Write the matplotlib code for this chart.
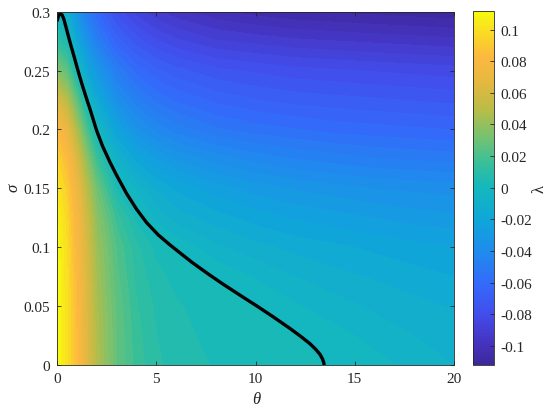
"""
Lyapunov exponent map lambda(theta, sigma) with the zero contour line.
"""
import numpy as np
import matplotlib
matplotlib.use("Agg")
import matplotlib.pyplot as plt
from matplotlib.colors import LinearSegmentedColormap, Normalize
from matplotlib.ticker import FuncFormatter
import matplotlib.cm as cm

plt.rcParams['font.family'] = ['Liberation Serif', 'DejaVu Serif']
plt.rcParams['axes.unicode_minus'] = False

# --- data ---
theta = [0, 0.5, 1, 1.5, 2, 3, 4, 5, 6, 8, 10, 12, 14, 16, 18, 20]
sigma = [0, 0.025, 0.05, 0.075, 0.1, 0.125, 0.15, 0.175, 0.2, 0.225,
         0.25, 0.275, 0.3]

lam_s000 = [0.112, 0.100, 0.085, 0.065, 0.048, 0.027, 0.016, 0.010, 0.007,
            0.004, 0.002, 0.0012, -0.0005, -0.003, -0.006, -0.009]
lam_s025 = [0.112, 0.100, 0.084, 0.064, 0.047, 0.027, 0.015, 0.009, 0.006,
            0.003, 0.0012, 0.0001, -0.003, -0.006, -0.009, -0.011]
lam_s050 = [0.112, 0.100, 0.083, 0.063, 0.046, 0.026, 0.014, 0.008, 0.005,
            0.002, 0.000, -0.004, -0.007, -0.010, -0.012, -0.014]
lam_s075 = [0.112, 0.099, 0.082, 0.062, 0.044, 0.024, 0.012, 0.006, 0.003,
            -0.0005, -0.005, -0.009, -0.012, -0.014, -0.016, -0.018]
lam_s100 = [0.111, 0.098, 0.080, 0.060, 0.042, 0.022, 0.010, 0.003, -0.001,
            -0.008, -0.012, -0.015, -0.017, -0.019, -0.021, -0.022]
lam_s125 = [0.108, 0.096, 0.077, 0.057, 0.038, 0.016, 0.003, -0.006, -0.011,
            -0.016, -0.020, -0.023, -0.025, -0.027, -0.029, -0.030]
lam_s150 = [0.102, 0.092, 0.072, 0.050, 0.030, 0.004, -0.006, -0.014, -0.019,
            -0.025, -0.029, -0.032, -0.034, -0.036, -0.037, -0.038]
lam_s175 = [0.095, 0.083, 0.062, 0.038, 0.016, -0.008, -0.020, -0.027, -0.032,
            -0.038, -0.042, -0.045, -0.047, -0.049, -0.050, -0.051]
lam_s200 = [0.082, 0.070, 0.046, 0.020, -0.001, -0.022, -0.035, -0.042, -0.047,
            -0.053, -0.056, -0.058, -0.060, -0.061, -0.062, -0.063]
lam_s225 = [0.062, 0.050, 0.025, 0.001, -0.016, -0.037, -0.048, -0.055, -0.059,
            -0.064, -0.067, -0.069, -0.070, -0.071, -0.072, -0.073]
lam_s250 = [0.035, 0.025, 0.002, -0.018, -0.031, -0.050, -0.060, -0.066, -0.070,
            -0.075, -0.077, -0.079, -0.080, -0.081, -0.082, -0.083]
lam_s275 = [0.012, 0.004, -0.018, -0.035, -0.048, -0.065, -0.074, -0.080, -0.084,
            -0.089, -0.091, -0.093, -0.094, -0.095, -0.096, -0.097]
lam_s300 = [-0.004, -0.012, -0.034, -0.050, -0.062, -0.078, -0.087, -0.093,
            -0.097, -0.102, -0.105, -0.107, -0.108, -0.109, -0.110, -0.111]

# lambda = 0 curve
zero_theta = [0.0, 0.05, 0.10, 0.18, 0.26, 0.35, 0.49, 0.65, 0.86, 1.05, 1.24,
              1.45, 1.66, 2.0, 2.3, 2.67, 3.0, 3.51, 4.0, 4.52, 5.1, 5.69,
              6.25, 6.8, 7.6, 8.38, 9.2, 10.06, 10.9, 11.74, 12.3, 12.75,
              13.05, 13.25, 13.38, 13.44, 13.46]
zero_sigma = [0.2918, 0.2950, 0.2972, 0.2982, 0.2972, 0.2935, 0.2847, 0.2745,
              0.2620, 0.2505, 0.2395, 0.2283, 0.2175, 0.1990, 0.1857, 0.1722,
              0.1612, 0.1455, 0.1325, 0.1208, 0.1105, 0.1020, 0.0945, 0.0872,
              0.0775, 0.0685, 0.0595, 0.0502, 0.0408, 0.0310, 0.0240, 0.0180,
              0.0130, 0.0090, 0.0050, 0.0020, 0.0]

LAM = np.array([lam_s000, lam_s025, lam_s050, lam_s075, lam_s100, lam_s125,
                lam_s150, lam_s175, lam_s200, lam_s225, lam_s250, lam_s275,
                lam_s300])

# parula-like map, tuned to the colours of the reference colorbar
cmap = LinearSegmentedColormap.from_list('parula_like', [
    (0.00, (0.24, 0.16, 0.60)),
    (0.06, (0.27, 0.20, 0.75)),
    (0.14, (0.26, 0.30, 0.92)),
    (0.23, (0.20, 0.42, 0.98)),
    (0.32, (0.12, 0.55, 0.93)),
    (0.41, (0.06, 0.65, 0.85)),
    (0.50, (0.08, 0.72, 0.74)),
    (0.57, (0.22, 0.75, 0.60)),
    (0.64, (0.45, 0.76, 0.45)),
    (0.72, (0.72, 0.74, 0.28)),
    (0.80, (0.90, 0.72, 0.25)),
    (0.87, (0.99, 0.72, 0.25)),
    (0.93, (0.98, 0.84, 0.15)),
    (1.00, (0.97, 0.98, 0.06))], N=256)

VMIN, VMAX = -0.112, 0.112
EDGE = '#262626'

fig = plt.figure(figsize=(5.5, 4.1), dpi=100)
ax = fig.add_axes([0.1036, 0.1073, 0.7219, 0.8617])

levels = np.linspace(VMIN, VMAX, 51)
ax.contourf(theta, sigma, LAM, levels=levels, cmap=cmap,
            vmin=VMIN, vmax=VMAX, extend='both')
ax.plot(zero_theta, zero_sigma, color='black', linewidth=2.4,
        solid_capstyle='butt')

ax.set_xlim(0, 20)
ax.set_ylim(0, 0.3)
ax.set_xticks([0, 5, 10, 15, 20])
ax.set_yticks([0, 0.05, 0.1, 0.15, 0.2, 0.25, 0.3])
fmt = FuncFormatter(lambda v, p: '%g' % round(v, 4))
ax.yaxis.set_major_formatter(fmt)
ax.tick_params(direction='in', top=True, right=True, length=3, width=0.6,
               labelsize=11, colors=EDGE, pad=5)
for sp in ax.spines.values():
    sp.set_color(EDGE)
    sp.set_linewidth(0.6)

# axis labels placed like in the reference
fig.text(256 / 550, 1 - 400 / 410, 'θ', fontsize=12, fontstyle='italic',
         color=EDGE, ha='center', va='center')
fig.text(13 / 550, 1 - 188 / 410, 'σ', fontsize=12, fontstyle='italic',
         rotation=90, color=EDGE, ha='center', va='center')

# colorbar
cax = fig.add_axes([0.8606, 0.108, 0.0382, 0.8635])
sm = cm.ScalarMappable(norm=Normalize(VMIN, VMAX), cmap=cmap)
cb = fig.colorbar(sm, cax=cax, ticks=np.round(np.arange(-0.1, 0.101, 0.02), 2))
cb.ax.yaxis.set_major_formatter(fmt)
cb.ax.tick_params(direction='in', length=3, width=0.6, labelsize=11,
                  colors=EDGE, pad=4)
cb.outline.set_edgecolor(EDGE)
cb.outline.set_linewidth(0.6)
fig.text(540 / 550, 0.54, 'λ', fontsize=12, rotation=90, color=EDGE,
         ha='center', va='center')

fig.savefig('out.png', dpi=100)
